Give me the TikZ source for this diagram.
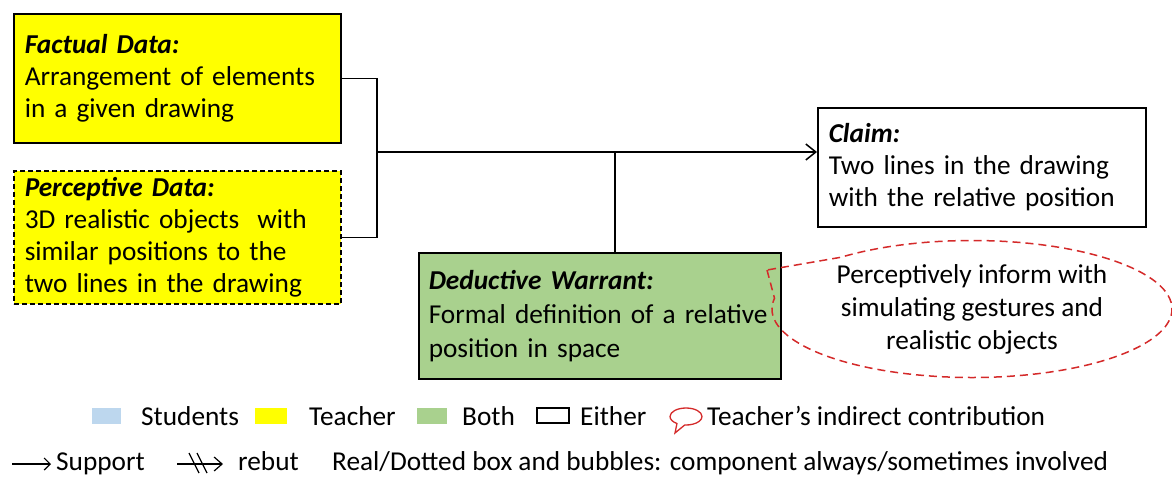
\documentclass[tikz,border=0pt]{standalone}
\usepackage{fontspec}
\setmainfont{Carlito}
\usetikzlibrary{arrows.meta,shapes.callouts}
\definecolor{tchyellow}{HTML}{FFFF00}
\definecolor{bothgreen}{HTML}{A9D18E}
\definecolor{stdblue}{HTML}{BDD7EE}
\definecolor{indred}{HTML}{D42A2A}
\tikzset{
  txt/.style={font=\fontsize{27.3}{32}\selectfont},
  compbox/.style={txt, draw=black, line width=1.5pt, rectangle, anchor=north west,
    align=left, inner xsep=11pt, inner ysep=0pt},
  dotbox/.style={compbox, dash pattern=on 5pt off 3pt},
  link/.style={draw=black, line width=1.5pt},
  supp/.style={link, -{Straight Barb[length=10pt,width=16pt,line width=1.5pt]}},
  lgd/.style={txt, anchor=base west, inner sep=0pt},
}

\begin{document}
\begin{tikzpicture}[x=1pt,y=-1pt]
  \useasboundingbox (0,0) rectangle (1172,477);
  % components
  \node[compbox, fill=tchyellow, text width=305pt, minimum height=129pt] (fact) at (13,13)
    {\textbf{\textit{Factual Data:}}\\Arrangement of elements\\in a given drawing};
  \node[dotbox, fill=tchyellow, text width=305pt, minimum height=133pt] (perc) at (13,170)
    {\textbf{\textit{Perceptive Data:}}\\3D realistic objects\ \ with\\similar positions to the\\two lines in the drawing};
  \node[compbox, fill=white, text width=306pt, minimum height=119pt] (claim) at (817,107)
    {\textbf{\textit{Claim:}}\\Two lines in the drawing\\with the relative position};
  \node[compbox, fill=bothgreen, inner xsep=10pt, text width=342pt, minimum height=126pt,
    font=\fontsize{27.3}{34}\selectfont] (warr) at (418,252)
    {\textbf{\textit{Deductive Warrant:}}\\Formal definition of a relative\\position in space};
  % indirect contribution
  \coordinate (tip) at (767,270);
  \node[ellipse callout, draw=indred, line width=1.5pt, dash pattern=on 8pt off 5pt,
    minimum width=400pt, minimum height=137pt, inner sep=0pt, align=center,
    font=\fontsize{27.3}{33}\selectfont,
    callout absolute pointer={(tip)}, callout pointer arc=40] (hint) at (972,309)
    {Perceptively inform with\\simulating gestures and\\realistic objects};
  % connectors
  \coordinate (jn) at (377,152);
  \coordinate (wjn) at (615,152);
  \draw[link] (fact.east) -| (jn) |- (perc.east);
  \draw[supp] (jn) -- (claim.west |- jn);
  \draw[link] (wjn) -- (wjn |- warr.north);
  % legend, first row
  \fill[stdblue] (92,408) rectangle (121,424);
  \node[lgd] (lstd) at (141,425) {Students};
  \fill[tchyellow] (255,408) rectangle (287,424);
  \node[lgd] (ltch) at (309,425) {Teacher};
  \fill[bothgreen] (417,408) rectangle (447,424);
  \node[lgd] (lboth) at (462,425) {Both};
  \draw[line width=1.3pt] (537,408) rectangle (569,423);
  \node[lgd] (leith) at (580,425) {Either};
  \coordinate (btip) at (675,433);
  \node[ellipse callout, draw=indred, line width=1.3pt, minimum width=32pt, minimum height=17pt,
    inner sep=0pt, callout absolute pointer={(btip)}, callout pointer arc=30] (lbub) at (686,416.5) {};
  \node[lgd] (lind) at (707,425) {Teacher’s indirect contribution};
  % legend, second row
  \coordinate (sa) at (12,464);
  \coordinate (sb) at (51,464);
  \draw[-{Straight Barb[length=6pt,width=12pt,line width=1.2pt]}, line width=1.2pt] (sa) -- (sb);
  \node[lgd] (lsup) at (56,470) {Support};
  \coordinate (ra) at (177,464);
  \coordinate (rb) at (223,464);
  \draw[-{Straight Barb[length=8pt,width=14pt,line width=1.2pt]}, line width=1.2pt] (ra) -- (rb);
  \draw[line width=1.2pt] (189,453) -- (199,473) (197,453) -- (207,473);
  \node[lgd] (lreb) at (238,470) {rebut};
  \node[lgd] (lreal) at (332,470) {Real/Dotted box and bubbles: component always/sometimes involved};
\end{tikzpicture}
\end{document}
